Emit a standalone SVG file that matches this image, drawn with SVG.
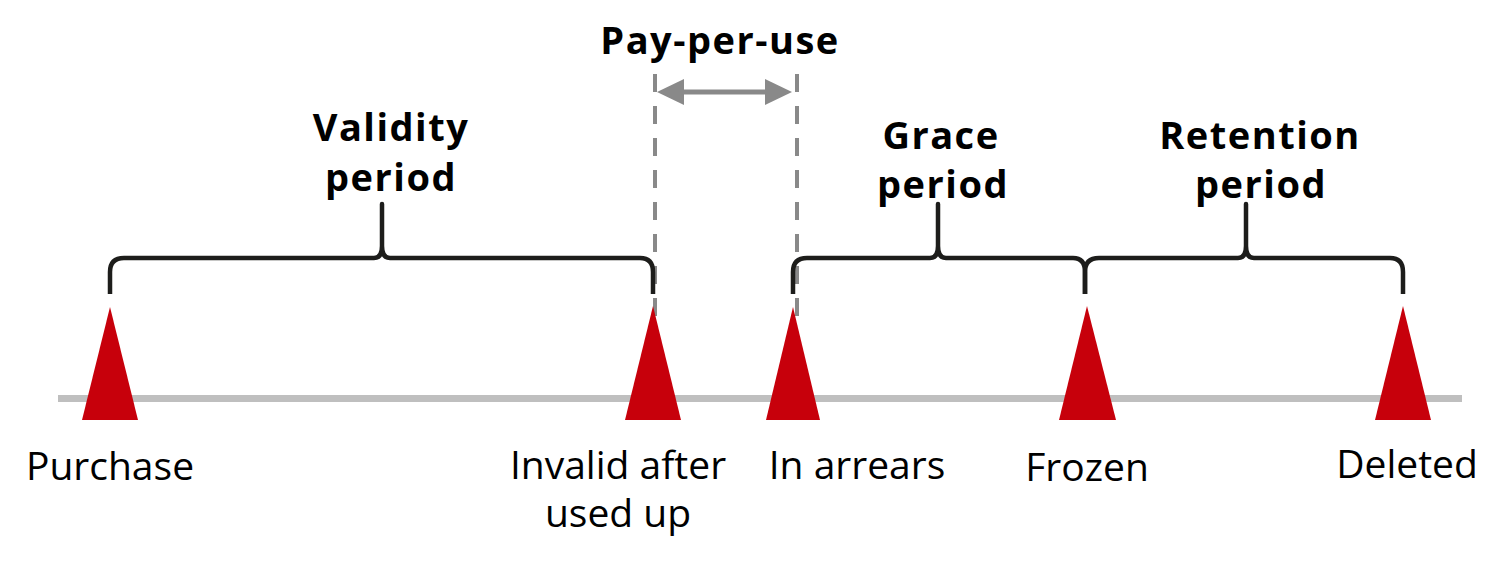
<svg xmlns="http://www.w3.org/2000/svg" width="1505" height="561" viewBox="0 0 1505 561">
<style>
.bg{fill:#ffffff}
.axis{stroke:#bfbfbf;stroke-width:7;fill:none}
.tri{fill:#c7000b}
.brace{stroke:#1d1d1b;stroke-width:4.5;fill:none;stroke-linejoin:round;stroke-linecap:butt}
.dash{stroke:#898989;stroke-width:4;stroke-dasharray:18 14;fill:none}
.arrow{stroke:#898989;stroke-width:5;fill:none}
.lbl{font-family:"Open Sans","Noto Sans","Liberation Sans",sans-serif;font-size:39px;fill:#000;text-anchor:middle}
.ttl{font-family:"Open Sans","Noto Sans","Liberation Sans",sans-serif;font-size:38px;font-weight:bold;letter-spacing:1.5px;fill:#000;text-anchor:middle}
</style>
<defs>
<marker id="ah" markerUnits="userSpaceOnUse" markerWidth="27" markerHeight="26" refX="14" refY="13" orient="auto-start-reverse">
<path d="M0,0 L27,13 L0,26 z" fill="#898989"/>
</marker>
</defs>
<rect class="bg" x="0" y="0" width="1505" height="561"/>
<line id="timeline" class="axis" x1="58" y1="398.5" x2="1462" y2="398.5"/>
<g id="connectors">
<line class="dash" x1="655" y1="74" x2="655" y2="318"/>
<line class="dash" x1="797" y1="74" x2="797" y2="318"/>
<line class="arrow" x1="670" y1="92" x2="779" y2="92" marker-start="url(#ah)" marker-end="url(#ah)"/>
</g>
<g id="purchase">
<polygon class="tri" points="110,307 82,420 138,420"/>
<text class="lbl" x="110" y="480">Purchase</text>
</g>
<g id="invalid">
<polygon class="tri" points="653,306 625,420 681,420"/>
<text class="lbl" x="618" y="479">Invalid after</text>
<text class="lbl" x="618" y="527">used up</text>
</g>
<g id="arrears">
<polygon class="tri" points="793,307 766,420 820,420"/>
<text class="lbl" x="857" y="479">In arrears</text>
</g>
<g id="frozen">
<polygon class="tri" points="1087,306 1059,420 1116,420"/>
<text class="lbl" x="1087" y="481">Frozen</text>
</g>
<g id="deleted">
<polygon class="tri" points="1403,306 1375,420 1431,420"/>
<text class="lbl" x="1407" y="478">Deleted</text>
</g>
<g id="validity">
<path class="brace" d="M110,294 L110,272 Q110,258 124,258 L374,258 Q382,258 382,246 L382,204 L382,246 Q382,258 390,258 L640,258 Q653,258 653,272 L653,294"/>
<text class="ttl" x="391" y="141">Validity</text>
<text class="ttl" x="391" y="191">period</text>
</g>
<g id="grace">
<path class="brace" d="M793,294 L793,272 Q793,258 807,258 L930,258 Q938,258 938,246 L938,204 L938,246 Q938,258 946,258 L1073,258 Q1085,258 1085,272 L1085,294"/>
<text class="ttl" x="941" y="149">Grace</text>
<text class="ttl" x="943" y="198">period</text>
</g>
<g id="retention">
<path class="brace" d="M1085,294 L1085,272 Q1085,258 1099,258 L1238,258 Q1246,258 1246,246 L1246,204 L1246,246 Q1246,258 1254,258 L1390,258 Q1403,258 1403,272 L1403,294"/>
<text class="ttl" x="1260" y="149">Retention</text>
<text class="ttl" x="1261" y="198">period</text>
</g>
<g id="payperuse">
<text class="ttl" x="720" y="54">Pay-per-use</text>
</g>
</svg>
